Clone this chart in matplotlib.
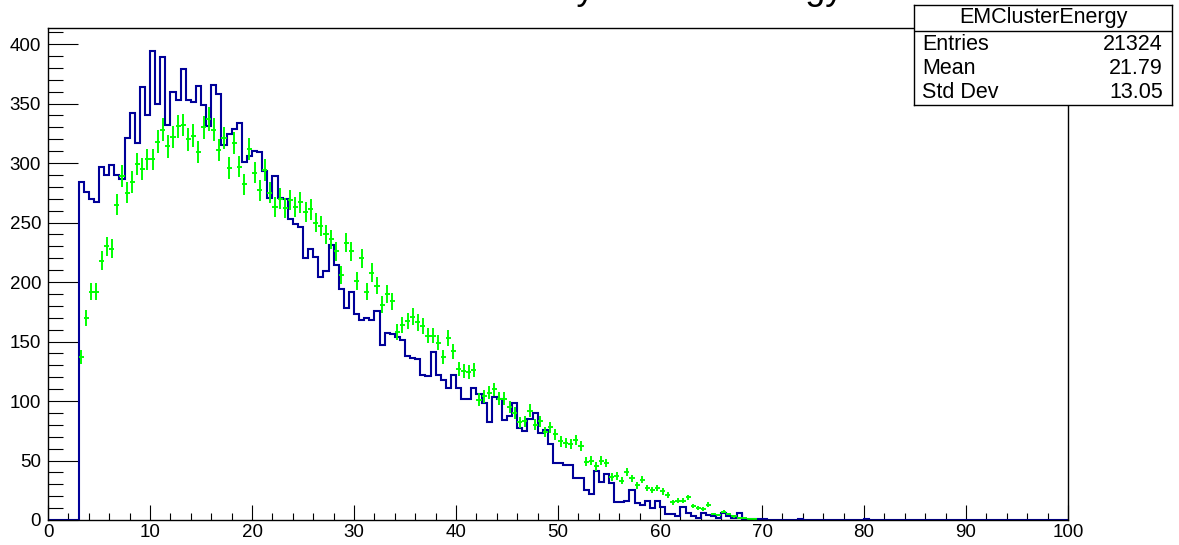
import numpy as np
import matplotlib
matplotlib.use("Agg")
import matplotlib.pyplot as plt
from matplotlib.ticker import MultipleLocator

plt.rcParams["font.family"] = ["Liberation Sans", "DejaVu Sans"]

# ---- data (bin width 0.5, range 0-100) ----
bin_width = 0.5
x_min, x_max = 0.0, 100.0
first_bin = 3.0  # first filled bin of the blue histogram

blue_counts = [
    284, 276, 270, 267, 297, 290, 298, 290, 287, 321,   # 3.0 - 7.5
    342, 317, 364, 340, 394, 350, 389, 332, 360, 353,   # 8.0 - 12.5
    379, 353, 351, 365, 349, 331, 366, 358, 315, 324,   # 13.0 - 17.5
    329, 334, 301, 306, 310, 309, 293, 271, 289, 271,   # 18.0 - 22.5
    270, 253, 249, 246, 220, 228, 221, 204, 209, 231,   # 23.0 - 27.5
    214, 194, 178, 192, 173, 168, 170, 168, 176, 147,   # 28.0 - 32.5
    157, 156, 154, 151, 138, 136, 135, 122, 121, 141,   # 33.0 - 37.5
    122, 118, 111, 122, 111, 102, 102, 111, 106, 98,    # 38.0 - 42.5
    82, 103, 102, 84, 87, 98, 77, 75, 85, 90,           # 43.0 - 47.5
    73, 76, 64, 48, 48, 46, 46, 35, 35, 25,             # 48.0 - 52.5
    22, 41, 32, 39, 31, 15, 15, 16, 25, 14,             # 53.0 - 57.5
    13, 16, 10, 16, 11, 5, 5, 3, 11, 6,                 # 58.0 - 62.5
    3, 2, 6, 4, 3, 2, 6, 3, 2, 6,                       # 63.0 - 67.5
    1, 1, 1, 1, 1, 0, 0, 0, 0, 0,                       # 68.0 - 72.5
    0, 1, 0, 0, 0, 0, 0, 0, 0, 0,                       # 73.0 - 77.5
    0, 0, 0, 0, 1,                                      # 78.0 - 80.0
]

green_first_center = 3.25
green_values = [
    137, 170, 192, 192, 218, 230, 228, 265, 289, 275,   # 3.25 - 7.75
    284, 299, 295, 303, 303, 318, 328, 314, 322, 331,   # 8.25 - 12.75
    332, 320, 323, 309, 330, 337, 328, 311, 321, 296,   # 13.25 - 17.75
    317, 297, 282, 312, 292, 277, 294, 275, 263, 270,   # 18.25 - 22.75
    262, 269, 263, 267, 259, 261, 250, 247, 240, 236,   # 23.25 - 27.75
    226, 206, 233, 226, 201, 220, 192, 208, 197, 181,   # 28.25 - 32.75
    190, 184, 158, 164, 167, 171, 166, 163, 155, 155,   # 33.25 - 37.75
    149, 137, 153, 142, 127, 125, 124, 126, 101, 104,   # 38.25 - 42.75
    107, 110, 102, 102, 95, 90, 82, 83, 92, 80,         # 43.25 - 47.75
    83, 74, 78, 72, 66, 65, 64, 67, 62, 49,             # 48.25 - 52.75
    50, 45, 50, 48, 36, 37, 33, 40, 35, 29,             # 53.25 - 57.75
    34, 27, 25, 27, 24, 21, 15, 16, 16, 19,             # 58.25 - 62.75
    12, 10, 9, 13, 5, 4, 7, 5, 3, 2,                    # 63.25 - 67.75
    1.4, 0.6, 0.6,                                      # 68.25 - 69.25
]
mc_weight = 0.28  # per-entry weight of the scaled green sample (Poisson errors)

stats_name = "EMClusterEnergy"
stats_rows = [("Entries", "21324"), ("Mean", "21.79"), ("Std Dev", "13.05")]
title = "Primary Cluster Energy"

BLUE = "#000099"
GREEN = "#00ff00"

# ---- build histogram arrays ----
edges = np.arange(x_min, x_max + bin_width / 2, bin_width)
full = np.zeros(len(edges) - 1)
i0 = int(round((first_bin - x_min) / bin_width))
full[i0:i0 + len(blue_counts)] = blue_counts

gx = green_first_center + bin_width * np.arange(len(green_values))
gy = np.array(green_values, dtype=float)
gerr = np.sqrt(mc_weight * gy)

# ---- figure ----
W, H = 1179, 545
fig = plt.figure(figsize=(W / 100, H / 100), dpi=100)
ax = fig.add_axes([48 / W, 25 / H, (1068 - 48) / W, (520 - 28) / H])

ax.stairs(full, edges, color=BLUE, lw=1.5, zorder=2)
ax.errorbar(gx, gy, yerr=gerr, xerr=bin_width / 2, fmt="none",
            ecolor=GREEN, elinewidth=1.4, capsize=0, zorder=3)

ax.set_xlim(x_min, x_max)
ax.set_ylim(0, 413.5)
ax.xaxis.set_major_locator(MultipleLocator(10))
ax.xaxis.set_minor_locator(MultipleLocator(2))
ax.yaxis.set_major_locator(MultipleLocator(50))
ax.yaxis.set_minor_locator(MultipleLocator(10))
ax.tick_params(axis="x", which="major", direction="in", length=10.8, width=0.8,
               labelsize=13.5, pad=3)
ax.tick_params(axis="x", which="minor", direction="in", length=5.4, width=0.8)
ax.tick_params(axis="y", which="major", direction="in", length=21.6, width=0.8,
               labelsize=13.5, pad=5)
ax.tick_params(axis="y", which="minor", direction="in", length=10.8, width=0.8)
for sp in ax.spines.values():
    sp.set_linewidth(1.0)
    sp.set_zorder(4)

# title sits above the canvas edge, only its descenders show (as in the original)
fig.text(657 / W, 1 + 1 / H, title, ha="center", va="baseline", fontsize=26)

# stats box
sb = fig.add_axes([914 / W, 1 - 105 / H, (1172 - 914) / W, 100 / H])
sb.set_xlim(0, 1)
sb.set_ylim(0, 1)
sb.set_xticks([])
sb.set_yticks([])
for sp in sb.spines.values():
    sp.set_linewidth(1.0)
sb.axhline(0.74, color="black", lw=1.0)
sb.text(0.5, 0.87, stats_name, ha="center", va="center", fontsize=15.5)
for (lab, val), yy in zip(stats_rows, [0.61, 0.37, 0.13]):
    sb.text(0.031, yy, lab, ha="left", va="center", fontsize=15.5)
    sb.text(0.965, yy, val, ha="right", va="center", fontsize=15.5)

fig.savefig("out.png", dpi=100)
